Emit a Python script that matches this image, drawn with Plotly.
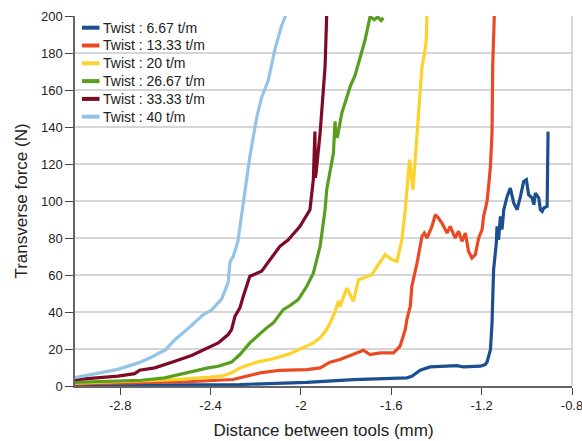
import plotly.graph_objects as go

# ---- data (distance in mm, transverse force in N) ----
x_667 = [-3.0, -2.6, -2.27, -1.974, -1.768, -1.531, -1.509, -1.472, -1.428, -1.309, -1.280, -1.206,
         -1.184, -1.176, -1.161, -1.154, -1.147, -1.135, -1.132, -1.125, -1.117, -1.110, -1.102,
         -1.087, -1.073, -1.058, -1.043, -1.028, -1.014, -1.002, -0.992, -0.976, -0.969, -0.962,
         -0.947, -0.940, -0.932, -0.925, -0.910, -0.906]
y_667 = [0.3, 0.5, 0.8, 2.0, 3.5, 4.4, 5.3, 8.5, 10.3, 11.0, 10.3, 10.7,
         11.6, 13, 19.7, 34.1, 62.9, 77.3, 86.3, 79, 91.7, 84.5, 95.3,
         102.5, 107, 98.9, 95.3, 102.5, 110.6, 111.5, 103.4, 101.6, 98, 104.3,
         101.6, 95.3, 94.4, 96.2, 97.1, 137.5]

x_1333 = [-3.0, -2.7, -2.5, -2.3, -2.27, -2.181, -2.093, -1.974, -1.915, -1.871, -1.827, -1.768,
          -1.723, -1.694, -1.649, -1.590, -1.561, -1.538, -1.531, -1.516, -1.509, -1.486, -1.464,
          -1.454, -1.442, -1.420, -1.405, -1.391, -1.376, -1.353, -1.339, -1.317, -1.302, -1.287,
          -1.272, -1.258, -1.243, -1.228, -1.213, -1.198, -1.191, -1.183, -1.176, -1.169, -1.161,
          -1.154, -1.151, -1.144]
y_1333 = [1.2, 1.8, 2.3, 3.5, 4.4, 7.1, 8.5, 8.9, 9.8, 12.9, 14.3, 17,
          19.3, 17, 17.9, 17.9, 21.5, 30.5, 35.9, 43, 53.9, 66.5, 80.9,
          82.7, 80, 86.3, 92.6, 90.8, 88.1, 82.7, 86.3, 80, 83.6, 78.2,
          82.7, 72.8, 69.2, 71, 80, 84.5, 92, 96, 100, 108, 119,
          137, 173, 200]

x_20 = [-3.0, -2.8, -2.558, -2.411, -2.351, -2.307, -2.270, -2.196, -2.122, -2.048, -1.989, -1.945,
        -1.915, -1.886, -1.871, -1.849, -1.834, -1.827, -1.797, -1.768, -1.745, -1.686, -1.657,
        -1.627, -1.597, -1.575, -1.561, -1.553, -1.538, -1.528, -1.519, -1.504, -1.486, -1.475,
        -1.464, -1.454, -1.445, -1.442]
y_20 = [1.5, 2.3, 3.5, 4.7, 5.3, 7.1, 9.8, 12.9, 14.7, 17.5, 20.6, 23.3,
        26, 30.5, 34, 40, 46, 43, 53, 45.8, 57.5, 60.2, 65.6,
        71, 68.3, 67.4, 74.6, 79, 95.3, 111.5, 122.3, 106, 136.5, 154.7,
        172.6, 179, 187, 200]

x_2667 = [-3.0, -2.85, -2.706, -2.603, -2.514, -2.411, -2.366, -2.307, -2.270, -2.226, -2.152, -2.122,
          -2.078, -2.048, -2.012, -1.974, -1.945, -1.915, -1.893, -1.886, -1.856, -1.849, -1.845,
          -1.838, -1.819, -1.797, -1.782, -1.760, -1.730, -1.716, -1.694, -1.675, -1.66, -1.645, -1.635]
y_2667 = [2, 2.5, 3.1, 4.4, 7.1, 9.8, 10.7, 12.9, 17, 23.3, 31.4, 34.1,
          41.3, 43.5, 46.7, 53.9, 61, 75.5, 95.3, 106, 125.9, 143, 135,
          134.8, 147.5, 156.4, 161.8, 168, 181.6, 187, 199.6, 198, 199.5, 197.5, 199]

x_3333 = [-3.0, -2.81, -2.736, -2.714, -2.647, -2.6, -2.558, -2.484, -2.411, -2.366, -2.322, -2.307,
          -2.292, -2.270, -2.255, -2.226, -2.174, -2.107, -2.093, -2.056, -2.004, -1.960, -1.952,
          -1.945, -1.938, -1.936, -1.933, -1.915, -1.893, -1.886]
y_3333 = [3.5, 5.3, 6.7, 8.5, 9.8, 11.5, 13.4, 16.5, 20.6, 23.3, 27.8, 30.5,
          37.7, 42.2, 48.5, 59.3, 62, 73.7, 75.5, 79, 86.3, 95.3, 106,
          111.5, 137.5, 112.5, 115, 136.7, 172.6, 200]

x_40 = [-3.0, -2.9, -2.81, -2.72, -2.662, -2.625, -2.6, -2.558, -2.5, -2.433, -2.396, -2.351,
        -2.322, -2.314, -2.300, -2.279, -2.255, -2.226, -2.196, -2.174, -2.145, -2.115, -2.085, -2.068]
y_40 = [4.5, 6.8, 9, 12.5, 15.5, 18, 19.5, 25, 31, 38.5, 41, 47,
        56, 67, 70, 78, 99, 124, 145, 156, 165, 182, 195, 200]

series_names = ["Twist : 6.67 t/m", "Twist : 13.33 t/m", "Twist : 20 t/m",
                "Twist : 26.67 t/m", "Twist : 33.33 t/m", "Twist : 40 t/m"]
series_x = [x_667, x_1333, x_20, x_2667, x_3333, x_40]
series_y = [y_667, y_1333, y_20, y_2667, y_3333, y_40]
colors = ["#1b4f8f", "#ea4a23", "#fdd22a", "#5a9e1f", "#7e0a25", "#93c4e8"]

y_ticks = [0, 20, 40, 60, 80, 100, 120, 140, 160, 180, 200]
x_ticks = [-2.8, -2.4, -2.0, -1.6, -1.2, -0.8]
x_tick_labels = ["-2.8", "-2.4", "-2", "-1.6", "-1.2", "-0.8"]

# ---- geometry (pixels) ----
W, H = 582, 441
ML, MR, MT, MB = 75, 10, 16, 55
PW, PH = W - ML - MR, H - MT - MB


def px_x(px):
    return (px - ML) / PW


def px_y(py):
    return (H - MB - py) / PH


fig = go.Figure()
for name, xs, ys, c in zip(series_names, series_x, series_y, colors):
    fig.add_trace(go.Scatter(x=xs, y=ys, mode="lines", name=name, showlegend=False,
                             line=dict(color=c, width=3.2)))

font = "Liberation Sans, Arial, sans-serif"
fig.update_layout(
    width=W, height=H,
    margin=dict(l=ML, r=MR, t=MT, b=MB),
    paper_bgcolor="white", plot_bgcolor="white",
    font=dict(family=font, color="#222222", size=13),
    showlegend=False,
    xaxis=dict(range=[-3.0, -0.8], tickvals=x_ticks, ticktext=x_tick_labels,
               automargin=False, ticklabeloverflow="allow",
               showgrid=False, zeroline=False,
               showline=True, linecolor="#666666", linewidth=1.5,
               ticks="outside", ticklen=7, tickcolor="#444444", tickwidth=1,
               tickfont=dict(size=13, color="#222222"),
               title=dict(text="Distance between tools (mm)", font=dict(size=17, color="#222222"),
                          standoff=12)),
    yaxis=dict(range=[0, 200], tickvals=y_ticks,
               automargin=False,
               showgrid=True, gridcolor="#d6d6d6", gridwidth=1.5,
               zeroline=False,
               showline=True, linecolor="#666666", linewidth=1.5,
               ticks="outside", ticklen=8, tickcolor="#444444", tickwidth=1,
               tickfont=dict(size=13, color="#222222"),
               title=dict(text="Transverse force (N)", font=dict(size=17, color="#222222"),
                          standoff=9)),
)
# right border
fig.add_shape(type="line", xref="paper", yref="paper", x0=1, x1=1, y0=0, y1=1,
              line=dict(color="#cccccc", width=1.5))

# legend box (white, hides gridlines) + entries
fig.add_shape(type="rect", xref="paper", yref="paper", layer="between",
              x0=px_x(76.5), x1=px_x(216), y0=px_y(127), y1=px_y(17),
              fillcolor="white", line=dict(width=0))
for i, (name, c) in enumerate(zip(series_names, colors)):
    row = 27.7 + i * 17.8
    fig.add_shape(type="line", xref="paper", yref="paper",
                  x0=px_x(82), x1=px_x(99.5), y0=px_y(row), y1=px_y(row),
                  line=dict(color=c, width=4))
    fig.add_annotation(xref="paper", yref="paper", x=px_x(100.5), y=px_y(row),
                       xanchor="left", yanchor="middle", showarrow=False,
                       text=name, font=dict(size=14, color="#222222"))

fig.write_html("out.html", config={"displayModeBar": False},
               post_script="document.body.style.margin='0px';")
